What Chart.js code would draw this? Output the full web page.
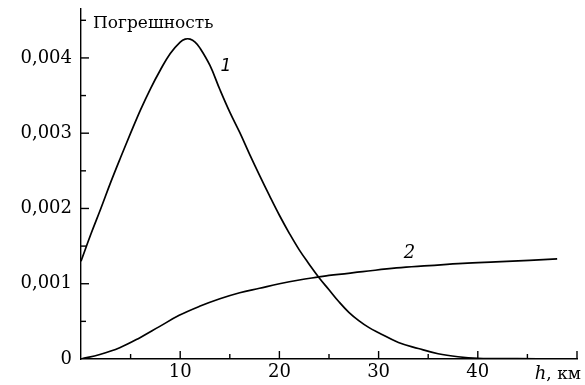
<!DOCTYPE html>
<html>
<head>
<meta charset="utf-8">
<script src="https://cdn.jsdelivr.net/npm/chart.js@4/dist/chart.umd.min.js"></script>
<style>
  html, body { margin: 0; padding: 0; background: #fff; }
  #wrap { width: 585px; height: 385px; }
</style>
</head>
<body>
<div id="wrap"><canvas id="c" width="585" height="385"></canvas></div>
<script>
// Curve 1: error vs altitude h (km)
const h1 = [0, 1, 2, 3, 4, 5, 6, 7, 8, 9, 10, 10.5, 11, 11.5, 12, 13, 14, 15, 16, 17, 18, 19, 20, 21, 22, 23, 24, 25, 26, 27, 28, 29, 30, 32, 34, 36, 38, 40, 44, 48];
const err1 = [0.00130, 0.00166, 0.00200, 0.00235, 0.00268, 0.00300, 0.00331, 0.00359, 0.00384, 0.00406, 0.00421, 0.00425, 0.00425, 0.00421, 0.00413, 0.00390, 0.00358, 0.00328, 0.00301, 0.00272, 0.00244, 0.00217, 0.00191, 0.00167, 0.00145, 0.00126, 0.00108, 0.00092, 0.00076, 0.00062, 0.00051, 0.00042, 0.00035, 0.00022, 0.00014, 0.00007, 0.00003, 0.00001, 0.000005, 0];

// Curve 2
const h2 = [0, 1.9, 3.9, 5.9, 7.9, 9.9, 11.95, 14, 16, 18, 20, 22, 24, 25, 28.4, 31.8, 35.1, 38.5, 41.8, 45.2, 48];
const err2 = [0, 0.00006, 0.00015, 0.00028, 0.00043, 0.00058, 0.00070, 0.00080, 0.00088, 0.00094, 0.00100, 0.00105, 0.00109, 0.00111, 0.00116, 0.00121, 0.00124, 0.00127, 0.00129, 0.00131, 0.00133];

// Axis ticks and labels
const xLabelValues = [10, 20, 30, 40];
const xTickLabels = ['10', '20', '30', '40'];
const xMinorTicks = [5, 15, 25, 35, 45];
const xMajorTicks = [10, 20, 30, 40, 50];
const yLabelValues = [0, 0.001, 0.002, 0.003, 0.004];
const yTickLabels = ['0', '0,001', '0,002', '0,003', '0,004'];
const yMinorTicks = [0.0005, 0.0015, 0.0025, 0.0035, 0.0045];
const yMajorTicks = [0.001, 0.002, 0.003, 0.004];

const xTitle = ['h', ', км'];
const yTitle = 'Погрешность';
const curveNames = ['1', '2'];
const curveNameAt = [[14.6, 0.00388], [33.1, 0.00141]];

const SERIF = '"DejaVu Serif", serif';
const curveNameFonts = ['italic 17px "DejaVu Sans", sans-serif', 'italic 18px ' + SERIF];

const toPoints = (xs, ys) => xs.map((v, i) => ({ x: v, y: ys[i] }));

const decorations = {
  id: 'decorations',
  afterDraw(chart) {
    const { ctx, chartArea: a, scales: { x, y } } = chart;
    ctx.save();
    ctx.strokeStyle = '#000';
    ctx.lineWidth = 1.4;
    const seg = (x0, y0, x1, y1) => { ctx.beginPath(); ctx.moveTo(x0, y0); ctx.lineTo(x1, y1); ctx.stroke(); };
    // inward tick marks on the x axis
    xMajorTicks.forEach(v => { const p = x.getPixelForValue(v); seg(p, a.bottom, p, a.bottom - 8); });
    xMinorTicks.forEach(v => { const p = x.getPixelForValue(v); seg(p, a.bottom, p, a.bottom - 5); });
    // inward tick marks on the y axis
    yMajorTicks.forEach(v => { const p = y.getPixelForValue(v); seg(a.left, p, a.left + 8, p); });
    yMinorTicks.forEach(v => { const p = y.getPixelForValue(v); seg(a.left, p, a.left + 5, p); });

    ctx.fillStyle = '#000';
    // y axis title at the top, right of the axis
    ctx.font = '17px ' + SERIF;
    ctx.textAlign = 'left';
    ctx.textBaseline = 'alphabetic';
    ctx.fillText(yTitle, a.left + 12, 28);

    // x axis title at the end of the axis
    ctx.font = '17px ' + SERIF;
    const restW = ctx.measureText(xTitle[1]).width;
    ctx.textAlign = 'right';
    ctx.fillText(xTitle[1], a.right + 4, 379);
    ctx.font = 'italic 18px ' + SERIF;
    ctx.fillText(xTitle[0], a.right + 4 - restW, 379);

    // curve numbers
    ctx.textAlign = 'center';
    ctx.textBaseline = 'middle';
    curveNames.forEach((t, i) => {
      ctx.font = curveNameFonts[i];
      ctx.fillText(t, x.getPixelForValue(curveNameAt[i][0]), y.getPixelForValue(curveNameAt[i][1]));
    });
    ctx.restore();
  }
};

const lineStyle = { borderColor: '#000', borderWidth: 1.7, pointRadius: 0, fill: false, tension: 0.4 };

new Chart(document.getElementById('c'), {
  type: 'line',
  data: {
    datasets: [
      Object.assign({ label: curveNames[0], data: toPoints(h1, err1) }, lineStyle),
      Object.assign({ label: curveNames[1], data: toPoints(h2, err2) }, lineStyle)
    ]
  },
  options: {
    responsive: false,
    animation: false,
    layout: { padding: { left: 0, right: 8, top: 9, bottom: 0 } },
    plugins: { legend: { display: false }, tooltip: { enabled: false } },
    scales: {
      x: {
        type: 'linear',
        min: 0, max: 50,
        afterBuildTicks: s => { s.ticks = xLabelValues.map(v => ({ value: v })); },
        afterFit: s => { s.height = 26; s.paddingLeft = 0; s.paddingRight = 0; },
        grid: { display: false, drawTicks: false },
        border: { display: true, color: '#000', width: 1.4 },
        ticks: {
          color: '#000',
          font: { family: SERIF, size: 18 },
          padding: 3,
          maxRotation: 0,
          autoSkip: false,
          callback: v => { const i = xLabelValues.indexOf(v); return i >= 0 ? xTickLabels[i] : ''; }
        }
      },
      y: {
        type: 'linear',
        min: 0, max: 0.00465,
        afterBuildTicks: s => { s.ticks = yLabelValues.map(v => ({ value: v })); },
        afterFit: s => { s.width = 81; s.paddingTop = 0; s.paddingBottom = 0; },
        grid: { display: false, drawTicks: false },
        border: { display: true, color: '#000', width: 1.4 },
        ticks: {
          color: '#000',
          font: { family: SERIF, size: 18 },
          padding: 9,
          autoSkip: false,
          callback: v => { const i = yLabelValues.indexOf(v); return i >= 0 ? yTickLabels[i] : ''; }
        }
      }
    }
  },
  plugins: [decorations]
});
</script>
</body>
</html>
